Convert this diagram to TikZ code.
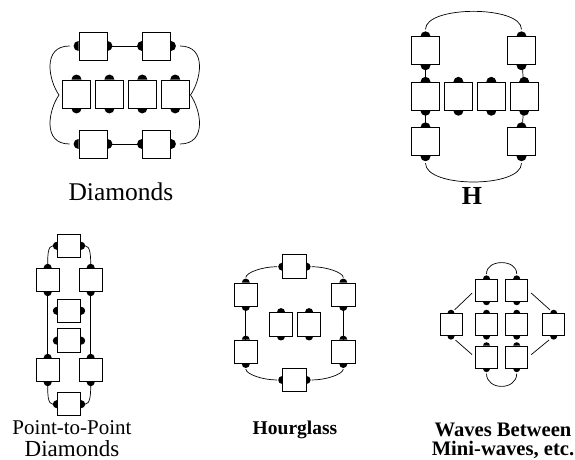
\documentclass[tikz,border=0pt]{standalone}
\usepackage{fontspec}
\setmainfont{Liberation Serif}
\usetikzlibrary{positioning,calc}

% black half-disc on side #2 (angle) of box #1, radius #3
\newcommand{\knob}[3]{\fill (#1.#2) ++(#2+90:#3) arc[start angle=#2+90, delta angle=-180, radius=#3] -- cycle;}

\begin{document}
\begin{tikzpicture}[
    x=1pt, y=1pt,
    bigbox/.style   = {rectangle, draw=black, line width=0.9pt, fill=white,
                       minimum size=28pt, inner sep=0pt},
    midbox/.style   = {bigbox, minimum size=23.5pt},
    smallbox/.style = {bigbox, minimum size=22pt},
    link/.style     = {line width=0.7pt},
    caption/.style  = {anchor=base, align=center, inner sep=0pt},
]
\useasboundingbox (0,0) rectangle (575,460);

% Diamonds
\node[bigbox] (d1) at (93,414) {};
\node[bigbox] (d2) at (156.5,414) {};
\node[bigbox] (d3) at (76.5,366) {};
\node[bigbox, right=4pt of d3] (d4) {};
\node[bigbox, right=4pt of d4] (d5) {};
\node[bigbox, right=4pt of d5] (d6) {};
\node[bigbox] (d7) at (93,316) {};
\node[bigbox] (d8) at (156.5,316) {};
\coordinate (dl) at (59,365);
\coordinate (dr) at (190.5,365);

\draw[link] (d1.east) -- (d2.west);
\draw[link] (d7.east) -- (d8.west);
\draw[link] ($(d1.west)+(-9,0)$) .. controls +(-28,0) and +(-10,14) .. (dl)
            .. controls +(-10,-14) and +(-28,0) .. ($(d7.west)+(-9,0)$);
\draw[link] ($(d2.east)+(9,0)$) .. controls +(28,0) and +(10,14) .. (dr)
            .. controls +(10,-14) and +(28,0) .. ($(d8.east)+(9,0)$);
\foreach \n in {d1,d2,d7,d8} {\knob{\n}{180}{5} \knob{\n}{0}{5}}
\foreach \n in {d3,d4,d5,d6} {\knob{\n}{90}{5} \knob{\n}{270}{5}}
\node[caption, font=\fontsize{25.5}{28}\selectfont] (dcap) at (121,259) {Diamonds};

% H
\node[bigbox] (h1) at (425.5,409.2) {};
\node[bigbox] (h2) at (521.5,409.2) {};
\node[bigbox] (h3) at (425.5,363.7) {};
\node[bigbox, right=4pt of h3] (h4) {};
\node[bigbox, right=4pt of h4] (h5) {};
\node[bigbox, right=4pt of h5] (h6) {};
\node[bigbox] (h7) at (425.5,318.2) {};
\node[bigbox] (h8) at (521.5,318.2) {};

\draw[link] (h1) -- (h3);
\draw[link] (h3) -- (h7);
\draw[link] (h2) -- (h6);
\draw[link] (h6) -- (h8);
\draw[link, shorten <=7pt, shorten >=7pt] (h1.north) .. controls +(0,31) and +(0,31) .. (h2.north);
\draw[link, shorten <=7pt, shorten >=7pt] (h7.south) .. controls +(0,-32) and +(0,-32) .. (h8.south);
\foreach \n in {h1,h2,h3,h4,h5,h6,h7,h8} {\knob{\n}{90}{5} \knob{\n}{270}{5}}
\node[caption, font=\bfseries\fontsize{26}{28}\selectfont] (hcap) at (472,255) {H};

% Point-to-Point Diamonds
\node[midbox] (p1) at (69,214.2) {};
\node[midbox] (p2) at (47.7,180) {};
\node[midbox] (p3) at (90.7,180) {};
\node[midbox] (p4) at (69,149.2) {};
\node[midbox] (p5) at (69,119.3) {};
\node[midbox] (p6) at (47.7,90) {};
\node[midbox] (p7) at (90.7,90) {};
\node[midbox] (p8) at (69,55.8) {};

\draw[link, shorten <=4pt, shorten >=4pt] (p1.west) .. controls +(-9,0) and +(0,12) .. (p2.north);
\draw[link, shorten <=4pt, shorten >=4pt] (p1.east) .. controls +(9,0) and +(0,12) .. (p3.north);
\draw[link] (p2) -- (p6);
\draw[link] (p3) -- (p7);
\draw[link, shorten <=4pt, shorten >=4pt] (p6.south) .. controls +(0,-12) and +(-9,0) .. (p8.west);
\draw[link, shorten <=4pt, shorten >=4pt] (p7.south) .. controls +(0,-12) and +(9,0) .. (p8.east);
\foreach \n in {p1,p4,p5,p8} {\knob{\n}{180}{4} \knob{\n}{0}{4}}
\foreach \n in {p2,p3,p6,p7} {\knob{\n}{90}{4} \knob{\n}{270}{4}}
\node[caption, font=\fontsize{21}{22}\selectfont] (pcap) at (72,4)
     {Point-to-Point\\{\fontsize{23}{22}\selectfont Diamonds}};

% Hourglass
\node[midbox] (g1) at (294.4,193.3) {};
\node[midbox] (g2) at (245.8,165.2) {};
\node[midbox] (g3) at (245.8,108.2) {};
\node[midbox] (g4) at (343.3,165.2) {};
\node[midbox] (g5) at (343.3,108.2) {};
\node[midbox] (g6) at (294.4,80) {};
\node[midbox] (g7) at (281,135.7) {};
\node[midbox, right=3.7pt of g7] (g8) {};

\draw[link, shorten <=5pt, shorten >=5pt] (g1.west) .. controls +(-20,0) and +(0,10) .. (g2.north);
\draw[link, shorten <=5pt, shorten >=5pt] (g1.east) .. controls +(20,0) and +(0,10) .. (g4.north);
\draw[link] (g2) -- (g3);
\draw[link] (g4) -- (g5);
\draw[link, shorten <=5pt, shorten >=5pt] (g3.south) .. controls +(0,-10) and +(-20,0) .. (g6.west);
\draw[link, shorten <=5pt, shorten >=5pt] (g5.south) .. controls +(0,-10) and +(20,0) .. (g6.east);
\foreach \n in {g1,g6} {\knob{\n}{180}{4} \knob{\n}{0}{4}}
\foreach \n in {g2,g3,g4,g5,g7,g8} {\knob{\n}{90}{4} \knob{\n}{270}{4}}
\node[caption, font=\bfseries\fontsize{19.5}{22}\selectfont] (gcap) at (295,25) {Hourglass};

% Waves Between Mini-waves
\node[smallbox] (w1) at (486.5,169.7) {};
\node[smallbox] (w2) at (516.7,169.7) {};
\node[smallbox] (w3) at (451,135.3) {};
\node[smallbox] (w4) at (486.5,135.3) {};
\node[smallbox] (w5) at (516.7,135.3) {};
\node[smallbox] (w6) at (553.7,135.3) {};
\node[smallbox] (w7) at (486.5,102.8) {};
\node[smallbox] (w8) at (516.7,102.8) {};

\draw[link, shorten <=5pt, shorten >=5pt] (w1.north) .. controls +(0,20) and +(0,20) .. (w2.north);
\draw[link, shorten <=5pt, shorten >=5pt] (w7.south) .. controls +(0,-22) and +(0,-22) .. (w8.south);
\draw[link, shorten <=5pt, shorten >=4pt] (w3.north) -- (w1.west);
\draw[link, shorten <=4pt, shorten >=5pt] (w2.east) -- (w6.north);
\draw[link, shorten <=6pt, shorten >=4pt] (w3.south) -- (w7.west);
\draw[link, shorten <=4pt, shorten >=6pt] (w8.east) -- (w6.south);
\foreach \n in {w1,w2,w3,w4,w5,w6,w7,w8} {\knob{\n}{90}{3.5} \knob{\n}{270}{3.5}}
\node[caption, font=\bfseries\fontsize{20.6}{19}\selectfont] (wcap) at (503,5)
     {Waves Between\\Mini-waves, etc.};
\end{tikzpicture}
\end{document}
